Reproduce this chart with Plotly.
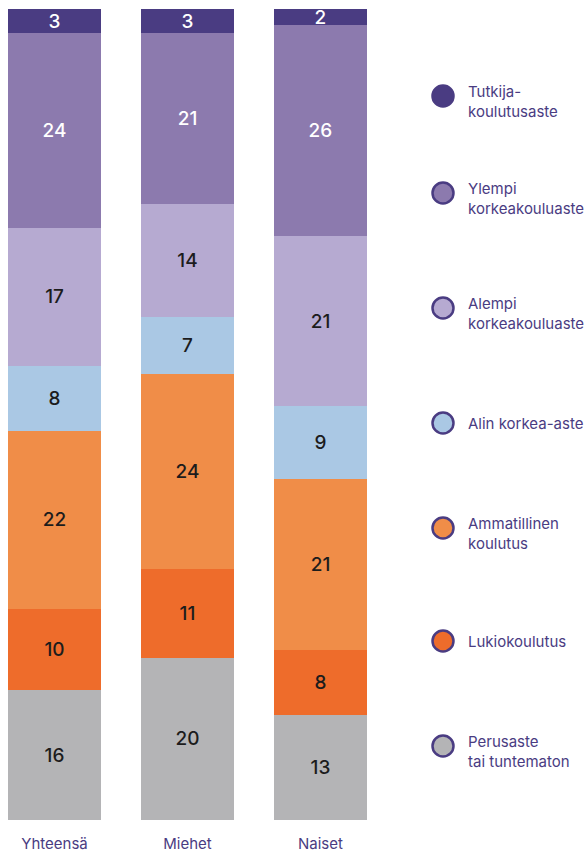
import plotly.graph_objects as go

categories = ["Yhteensä", "Miehet", "Naiset"]
levels = ["Perusaste<br>tai tuntematon", "Lukiokoulutus", "Ammatillinen<br>koulutus",
          "Alin korkea-aste", "Alempi<br>korkeakouluaste", "Ylempi<br>korkeakouluaste",
          "Tutkija-<br>koulutusaste"]
values = {
    "Perusaste<br>tai tuntematon": [16, 20, 13],
    "Lukiokoulutus": [10, 11, 8],
    "Ammatillinen<br>koulutus": [22, 24, 21],
    "Alin korkea-aste": [8, 7, 9],
    "Alempi<br>korkeakouluaste": [17, 14, 21],
    "Ylempi<br>korkeakouluaste": [24, 21, 26],
    "Tutkija-<br>koulutusaste": [3, 3, 2],
}
colors = ["#b4b4b6", "#ee6c2b", "#f08d48", "#aac8e4", "#b6aad1", "#8c7aae", "#4a3c82"]
text_colors = ["#1c1c1c", "#1c1c1c", "#1c1c1c", "#1c1c1c", "#1c1c1c", "#ffffff", "#ffffff"]

# legend layout (pixel positions in the page, stack order bottom to top)
legend_y = [746, 641, 528, 423, 308, 193, 96]
legend_marker_x = 443
legend_text_x = 466

PURPLE = "#4a3c82"
FONT = "Inter"

fig = go.Figure()
for lvl, c, tc in zip(levels, colors, text_colors):
    fig.add_trace(go.Bar(
        x=[0, 1, 2], y=values[lvl], marker=dict(color=c, line=dict(width=0)),
        text=[str(v) for v in values[lvl]], textposition="inside",
        insidetextanchor="middle", textangle=0, constraintext="none",
        textfont=dict(family=FONT, size=19, color=tc, weight=500),
        hoverinfo="skip", showlegend=False, width=0.7,
    ))

# legend markers on a separate full-width axis measured in page pixels
fig.add_trace(go.Scatter(
    x=[legend_marker_x] * len(levels), y=legend_y, mode="markers",
    marker=dict(size=21, color=colors, line=dict(width=2.5, color=PURPLE)),
    xaxis="x2", yaxis="y2", hoverinfo="skip", showlegend=False,
))
for lvl, ly in zip(levels, legend_y):
    nlines = lvl.count("<br>") + 1
    fig.add_annotation(
        x=legend_text_x, y=ly, xref="x2", yref="y2",
        text=lvl, showarrow=False, xanchor="left",
        yanchor="top" if nlines == 2 else "middle",
        yshift=16 if nlines == 2 else 0,
        align="left", font=dict(family=FONT, size=15, color=PURPLE),
    )

fig.update_layout(
    width=585, height=852, margin=dict(l=8, r=0, t=9, b=32),
    paper_bgcolor="white", plot_bgcolor="rgba(0,0,0,0)", barmode="stack",
    xaxis=dict(range=[-0.35, 2.35], domain=[0, 359 / 577], tickvals=[0, 1, 2],
               ticktext=categories, showgrid=False, zeroline=False, showline=False,
               ticks="", tickfont=dict(family=FONT, size=15, color=PURPLE),
               ticklabelstandoff=13, automargin=False),
    yaxis=dict(range=[0, 100], visible=False, showgrid=False),
    xaxis2=dict(range=[8, 585], domain=[0, 1], anchor="y2", visible=False, fixedrange=True),
    yaxis2=dict(range=[820, 9], domain=[0, 1], anchor="x2", visible=False, fixedrange=True),
)

fig.write_html("out.html", config={"displayModeBar": False},
               post_script="document.body.style.margin='0';document.body.style.overflow='hidden';")
